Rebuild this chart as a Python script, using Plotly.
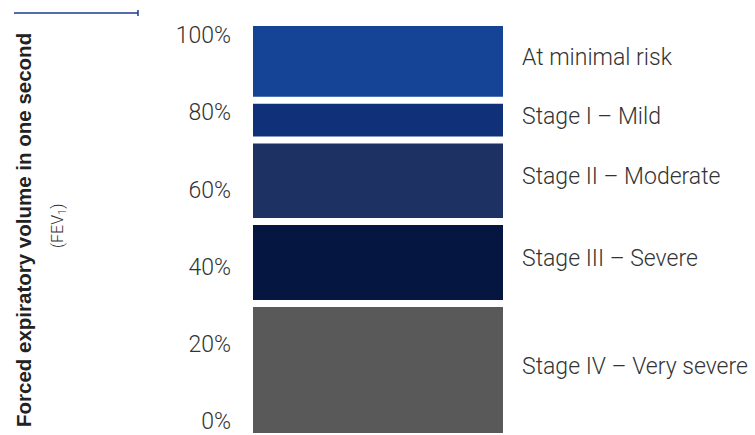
import plotly.graph_objects as go

# Data (percent of predicted FEV1)
stages = ["Stage IV – Very severe", "Stage III – Severe", "Stage II – Moderate",
          "Stage I – Mild", "At minimal risk"]
lower = [-3.0, 31.4, 52.6, 73.7, 84.0]
upper = [29.6, 50.8, 71.9, 82.2, 102.3]
colors = ["#595959", "#051641", "#1d3263", "#10317a", "#154396"]
tick_vals = [0, 20, 40, 60, 80, 100]
tick_text = ["0%", "20%", "40%", "60%", "80%", "100%"]

W, H = 755, 435
L, R, T, B = 253, 252, 26, 0
pw, ph = W - L - R, H - T - B

def px_x(x):
    return (x - L) / pw

def px_y(y):
    return 1 - (y - T) / ph

fig = go.Figure()
for name, lo, hi, c in zip(stages, lower, upper, colors):
    fig.add_trace(go.Bar(x=["FEV1"], y=[hi - lo], base=[lo], width=[1.0],
                         marker=dict(color=c, line=dict(width=0)),
                         name=name, showlegend=False, hoverinfo="skip"))

label_font = dict(family="Roboto", size=23, color="#333333", weight=300)
annotations = []
for name, lo, hi in zip(stages, lower, upper):
    annotations.append(dict(x=1, y=(lo + hi) / 2 + 1.0, xref="paper", yref="y",
                            text=name, showarrow=False, xanchor="left",
                            yanchor="middle", xshift=17, font=label_font))

annotations.append(dict(x=px_x(24), y=px_y(231), xref="paper", yref="paper",
                        xanchor="center", yanchor="middle",
                        text="<b>Forced expiratory volume in one second</b>",
                        textangle=-90, showarrow=False,
                        font=dict(family="Liberation Sans", size=20.5, color="#222222")))
annotations.append(dict(x=px_x(58), y=px_y(227), xref="paper", yref="paper",
                        xanchor="center", yanchor="middle",
                        text="(FEV<sub>1</sub>)", textangle=-90, showarrow=False,
                        font=dict(family="Roboto", size=16, color="#333333", weight=300)))

shapes = [
    dict(type="line", xref="paper", yref="paper", x0=px_x(14), x1=px_x(138),
         y0=px_y(13), y1=px_y(13), line=dict(color="#1a3c8c", width=1.5)),
    dict(type="line", xref="paper", yref="paper", x0=px_x(138), x1=px_x(138),
         y0=px_y(10), y1=px_y(16), line=dict(color="#1a3c8c", width=1.5)),
]

fig.update_layout(
    width=W, height=H, margin=dict(l=L, r=R, t=T, b=B, pad=0),
    paper_bgcolor="white", plot_bgcolor="white", barmode="overlay",
    xaxis=dict(range=[-0.5, 0.5], visible=False, fixedrange=True),
    yaxis=dict(range=[lower[0], upper[-1]], tickvals=tick_vals, ticktext=tick_text,
               showgrid=False, zeroline=False, showline=False, ticks="",
               ticklabelstandoff=21, ticklabeloverflow="allow", tickfont=label_font),
    annotations=annotations, shapes=shapes,
)
fig.write_html("out.html")
